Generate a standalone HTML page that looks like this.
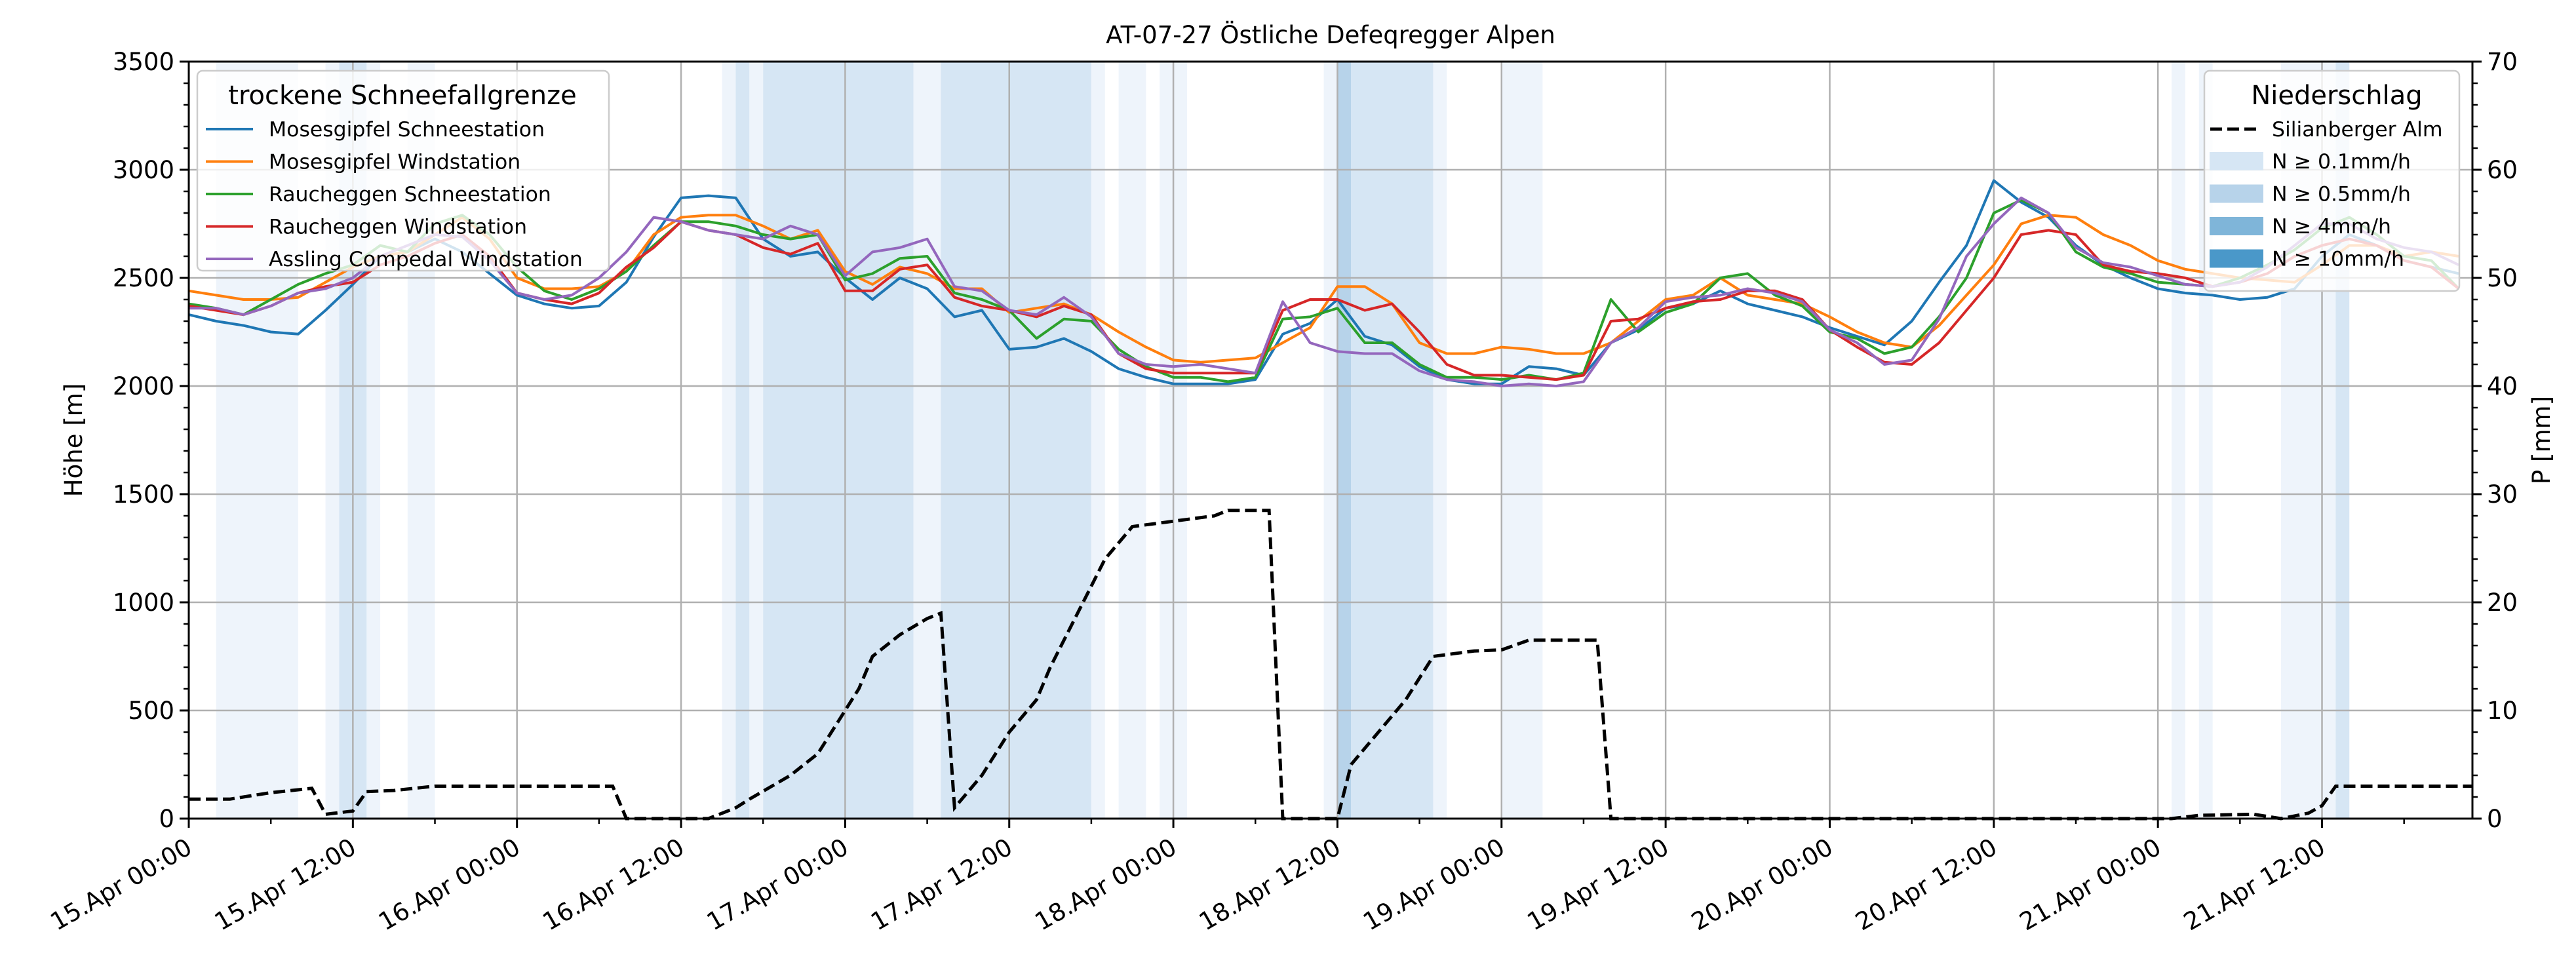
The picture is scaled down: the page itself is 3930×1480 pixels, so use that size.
<!DOCTYPE html>
<html><head><meta charset="utf-8">
<style>
html,body{margin:0;padding:0;background:#fff;}
svg{display:block;font-family:"DejaVu Sans","Liberation Sans",sans-serif;}
</style></head>
<body>
<svg id="chart" width="3930" height="1480" viewBox="0 0 3930 1480" xmlns="http://www.w3.org/2000/svg">
<rect x="0" y="0" width="3930" height="1480" fill="#fff"/>
<text x="2030" y="66" text-anchor="middle" font-size="37">AT-07-27 Östliche Defeqregger Alpen</text>
<g id="bands"></g>
<g id="grid"></g>
<g id="lines"></g>
<g id="axes"></g>
<g id="legends"></g>
</svg>
<script>
const hours = [0,2,4,6,8,10,12,14,16,18,20,22,24,26,28,30,32,34,36,38,40,42,44,46,48,50,52,54,56,58,60,62,64,66,68,70,72,74,76,78,80,82,84,86,88,90,92,94,96,98,100,102,104,106,108,110,112,114,116,118,120,122,124,126,128,130,132,134,136,138,140,142,144,146,148,150,152,154,156,158,160,162,164,166];
const mosesSchnee = [2330,2300,2280,2250,2240,2350,2470,2600,2620,2680,2620,2520,2420,2380,2360,2370,2480,2690,2870,2880,2870,2680,2600,2620,2500,2400,2500,2450,2320,2350,2170,2180,2220,2160,2080,2040,2010,2010,2010,2030,2240,2290,2400,2230,2190,2090,2030,2010,2010,2090,2080,2050,2200,2260,2360,2380,2440,2380,2350,2320,2270,2230,2190,2300,2480,2650,2950,2850,2780,2650,2560,2500,2450,2430,2420,2400,2410,2450,2600,2700,2650,2580,2550,2520];
const mosesWind = [2440,2420,2400,2400,2410,2480,2550,2600,2620,2700,2780,2680,2500,2450,2450,2460,2530,2700,2780,2790,2790,2740,2680,2720,2530,2470,2550,2520,2450,2450,2340,2360,2380,2330,2250,2180,2120,2110,2120,2130,2200,2270,2460,2460,2380,2200,2150,2150,2180,2170,2150,2150,2200,2300,2400,2420,2500,2420,2400,2380,2320,2250,2200,2180,2280,2420,2560,2750,2790,2780,2700,2650,2580,2540,2520,2500,2490,2480,2560,2650,2650,2600,2620,2600];
const rauchSchnee = [2380,2360,2330,2400,2470,2520,2560,2650,2620,2750,2790,2700,2550,2440,2400,2450,2530,2650,2760,2760,2740,2700,2680,2700,2490,2520,2590,2600,2430,2400,2350,2220,2310,2300,2170,2090,2040,2040,2020,2040,2310,2320,2360,2200,2200,2100,2040,2040,2030,2050,2030,2060,2400,2250,2340,2380,2500,2520,2420,2370,2250,2220,2150,2180,2320,2500,2800,2860,2800,2620,2550,2520,2480,2470,2460,2500,2560,2630,2730,2780,2700,2600,2580,2450];
const rauchWind = [2370,2350,2330,2370,2430,2460,2480,2560,2600,2660,2700,2600,2430,2400,2380,2430,2550,2640,2760,2720,2700,2640,2610,2660,2440,2440,2540,2560,2410,2370,2350,2320,2370,2330,2150,2080,2060,2060,2060,2060,2350,2400,2400,2350,2380,2250,2100,2050,2050,2040,2030,2050,2300,2310,2360,2390,2400,2440,2440,2400,2260,2180,2110,2100,2200,2350,2500,2700,2720,2700,2560,2530,2520,2500,2460,2480,2520,2600,2650,2680,2650,2580,2550,2450];
const assling = [2360,2360,2330,2370,2430,2450,2500,2600,2650,2700,2690,2580,2430,2400,2420,2500,2620,2780,2760,2720,2700,2680,2740,2700,2510,2620,2640,2680,2460,2440,2350,2330,2410,2320,2150,2100,2090,2100,2080,2060,2390,2200,2160,2150,2150,2070,2030,2020,2000,2010,2000,2020,2200,2270,2390,2410,2420,2450,2430,2390,2260,2200,2100,2120,2310,2600,2750,2870,2800,2640,2570,2550,2510,2470,2460,2480,2550,2650,2750,2750,2680,2640,2620,2560];
const precipHours = [0,3,6,9,10,12,13,15,18,31,32,38,40,41,44,46,48,49,50,52,54,55,56,58,60,62,63,65,67,69,72,75,76,79,80,84,85,87,89,91,94,96,98,103,104,145,147,151,153,155,156,157,167];
const precipValues = [1.8,1.8,2.4,2.8,0.4,0.7,2.5,2.6,3.0,3.0,0,0,1,1.8,4,6,10,12,15,17,18.5,19,1,4,8,11,14,19,24,27,27.5,28,28.5,28.5,0,0,5,8,11,15,15.5,15.6,16.5,16.5,0,0,0.3,0.4,0,0.5,1.2,3,3];
const bandStart = [2,10,11,16,39,40,41,42,53,55,66,68,71,83,84,85,91,96,145,147,153,157];
const bandEnd =   [8,14,13,18,40,41,42,53,55,66,67,70,73,84,85,91,92,99,146,148,157,158];
const bandLevel = [0,0,1,0,0,1,0,1,0,1,0,0,0,0,2,1,0,0,0,0,0,1];
const yTicks = [0,500,1000,1500,2000,2500,3000,3500];
const y2Ticks = [0,10,20,30,40,50,60,70];
const xTickLabels = ["15.Apr 00:00","15.Apr 12:00","16.Apr 00:00","16.Apr 12:00","17.Apr 00:00","17.Apr 12:00","18.Apr 00:00","18.Apr 12:00","19.Apr 00:00","19.Apr 12:00","20.Apr 00:00","20.Apr 12:00","21.Apr 00:00","21.Apr 12:00"];

const NS='http://www.w3.org/2000/svg';
const L=288,R=3772,T=94,B=1249,HMAX=167;
const xs=h=>L+(R-L)*h/HMAX;
const ys=v=>B-(B-T)*v/3500;
const y2=v=>B-(B-T)*v/70;
function mk(tag,attrs,parent){const e=document.createElementNS(NS,tag);for(const k in attrs)e.setAttribute(k,attrs[k]);parent.appendChild(e);return e;}
const bands=document.getElementById('bands'),grid=document.getElementById('grid'),lines=document.getElementById('lines'),axes=document.getElementById('axes'),leg=document.getElementById('legends');
const bandColors=['#eef4fb','#d6e6f4','#b7d3ea','#4a98c9'];
bandStart.forEach((s,i)=>{const r=mk('rect',{x:xs(s),y:T,width:xs(bandEnd[i])-xs(s),height:B-T,fill:bandColors[bandLevel[i]]},bands);

});
for(let i=0;i<xTickLabels.length;i++){const x=xs(i*12);const g=mk('line',{x1:x,x2:x,y1:T,y2:B,stroke:'#b0b0b0','stroke-width':2.5},grid);

}
yTicks.forEach(v=>{const g=mk('line',{x1:L,x2:R,y1:ys(v),y2:ys(v),stroke:'#b0b0b0','stroke-width':2.5},grid);

});
const series=[[mosesSchnee,'#1f77b4','mosesgipfel-schnee-line'],[mosesWind,'#ff7f0e','mosesgipfel-wind-line'],[rauchSchnee,'#2ca02c','raucheggen-schnee-line'],[rauchWind,'#d62728','raucheggen-wind-line'],[assling,'#9467bd','assling-line']];
series.forEach(s=>{const p=mk('polyline',{points:hours.map((h,i)=>xs(h)+','+ys(s[0][i])).join(' '),fill:'none',stroke:s[1],'stroke-width':4,'stroke-linejoin':'round'},lines);

});
const pl=mk('polyline',{points:precipHours.map((h,i)=>xs(h)+','+y2(precipValues[i])).join(' '),fill:'none',stroke:'#000','stroke-width':5,'stroke-dasharray':'18,8'},lines);


const fr=mk('rect',{x:L,y:T,width:R-L,height:B-T,fill:'none',stroke:'#000','stroke-width':3},axes);


for(let v=0;v<=3500;v+=100){const big=v%500===0;const t=mk('line',{x1:L,x2:L-(big?14:8),y1:ys(v),y2:ys(v),stroke:'#000','stroke-width':big?3:2.5},axes);

}
yTicks.forEach(v=>{const t=mk('text',{x:L-22,y:ys(v)+13,'text-anchor':'end','font-size':37},axes);t.textContent=v;

});
for(let v=0;v<=70;v+=2){const big=v%10===0;const t=mk('line',{x1:R,x2:R+(big?14:8),y1:y2(v),y2:y2(v),stroke:'#000','stroke-width':big?3:2.5},axes);

}
y2Ticks.forEach(v=>{const t=mk('text',{x:R+22,y:y2(v)+13,'text-anchor':'start','font-size':37},axes);t.textContent=v;

});
for(let h=0;h<=HMAX;h+=6){const big=h%12===0;const t=mk('line',{x1:xs(h),x2:xs(h),y1:B,y2:B+(big?14:8),stroke:'#000','stroke-width':big?3:2.5},axes);

}
xTickLabels.forEach((s,i)=>{const x=xs(i*12);const t=mk('text',{x:x-4,y:B+52,'text-anchor':'end','font-size':37,transform:'rotate(-30 '+x+' '+(B+30)+')'},axes);t.textContent=s;

});
let t=mk('text',{x:125,y:(T+B)/2,'text-anchor':'middle','font-size':37,transform:'rotate(-90 125 '+(T+B)/2+')'},axes);t.textContent='Höhe [m]';


t=mk('text',{x:3890,y:(T+B)/2,'text-anchor':'middle','font-size':37,transform:'rotate(-90 3890 '+(T+B)/2+')'},axes);t.textContent='P [mm]';


let lb=mk('rect',{x:301,y:108,width:628,height:305,rx:8,fill:'#fff','fill-opacity':0.8,stroke:'#ccc','stroke-width':2.5},leg);


t=mk('text',{x:614,y:159,'text-anchor':'middle','font-size':40},leg);t.textContent='trockene Schneefallgrenze';


const names=['Mosesgipfel Schneestation','Mosesgipfel Windstation','Raucheggen Schneestation','Raucheggen Windstation','Assling Compedal Windstation'];
names.forEach((n,i)=>{const y=197+i*49.5;const l=mk('line',{x1:314,x2:386,y1:y,y2:y,stroke:series[i][1],'stroke-width':4},leg);


const tx=mk('text',{x:410,y:y+11,'font-size':31.5},leg);tx.textContent=n;

});
lb=mk('rect',{x:3363,y:108,width:389,height:336,rx:8,fill:'#fff','fill-opacity':0.8,stroke:'#ccc','stroke-width':2.5},leg);


t=mk('text',{x:3565,y:159,'text-anchor':'middle','font-size':40},leg);t.textContent='Niederschlag';


let dl=mk('line',{x1:3372,x2:3444,y1:197,y2:197,stroke:'#000','stroke-width':5,'stroke-dasharray':'18,8'},leg);


t=mk('text',{x:3466,y:208,'font-size':31.5},leg);t.textContent='Silianberger Alm';


const pn=['N ≥ 0.1mm/h','N ≥ 0.5mm/h','N ≥ 4mm/h','N ≥ 10mm/h'];const pc=['#d6e6f4','#b7d3ea','#7fb5d9','#4a98c9'];
pn.forEach((n,i)=>{const y=246+i*49.5;const r=mk('rect',{x:3371,y:y-14,width:82,height:28,fill:pc[i]},leg);


const tx=mk('text',{x:3466,y:y+11,'font-size':31.5},leg);tx.textContent=n;

});
</script>
</body></html>
